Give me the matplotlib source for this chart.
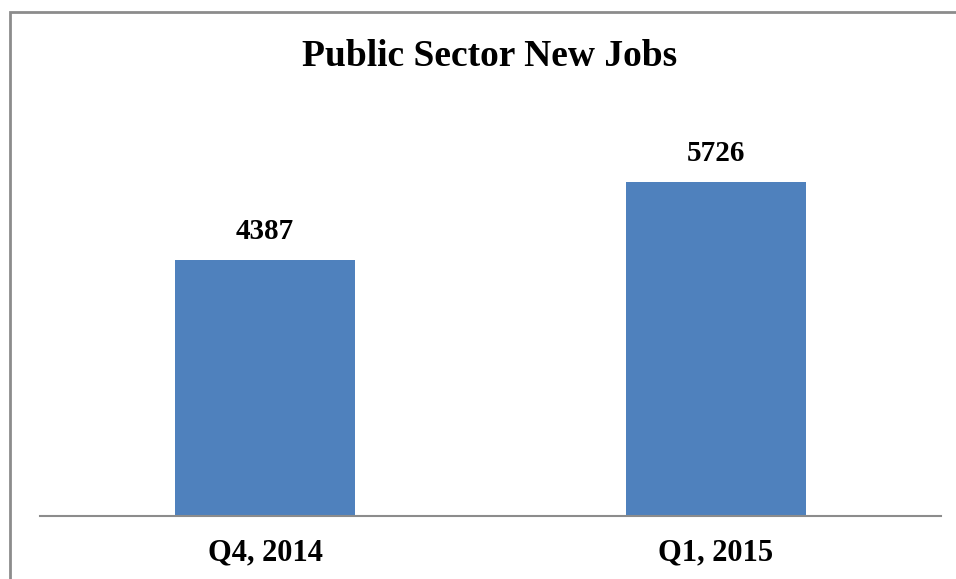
import matplotlib.pyplot as plt
from matplotlib.patches import Rectangle

quarters = ["Q4, 2014", "Q1, 2015"]
new_jobs = [4387, 5726]

W, H = 956, 579
fig = plt.figure(figsize=(W / 100, H / 100), dpi=100)
plt.rcParams['font.family'] = ['Liberation Serif', 'DejaVu Serif']

# outer frame of the chart box (only left and top edges fall inside the image)
fig.patches.append(Rectangle((10 / W, -0.1), 1.2, 1 - 12 / H + 0.1, transform=fig.transFigure,
                             fill=False, edgecolor='#8c8c8c', linewidth=2))

# plot area: x 40..941 px, baseline at y=516 px
ax = fig.add_axes([40 / W, (H - 516) / H, 901 / W, 408 / H])
ax.bar(range(len(quarters)), new_jobs, width=0.4, color='#4F81BD')
ax.set_xlim(-0.5, 1.5)
ax.set_ylim(0, 7000)

for i, v in enumerate(new_jobs):
    ax.annotate(str(v), (i, v), xytext=(0, 11), textcoords='offset points',
                ha='center', va='bottom', fontsize=21, fontweight='bold')

ax.set_xticks(range(len(quarters)))
ax.set_xticklabels(quarters, fontsize=22, fontweight='bold')
ax.tick_params(axis='x', length=0, pad=16)
ax.set_yticks([])
for s in ['top', 'right', 'left']:
    ax.spines[s].set_visible(False)
ax.spines['bottom'].set_color('#8c8c8c')
ax.spines['bottom'].set_linewidth(1.5)

fig.text(490 / W, 1 - 56 / H, "Public Sector New Jobs", ha='center', va='center',
         fontsize=27, fontweight='bold')

fig.savefig("out.png", dpi=100)
